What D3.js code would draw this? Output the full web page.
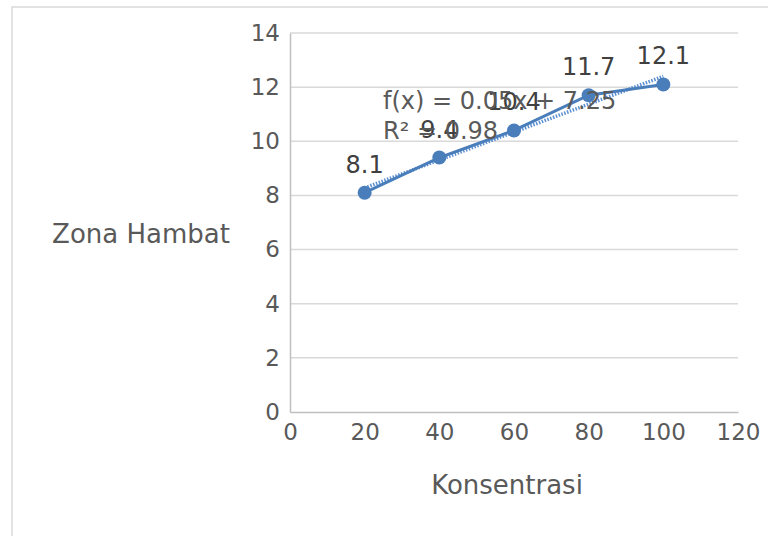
<!DOCTYPE html>
<html><head><meta charset="utf-8">
<script src="https://cdn.jsdelivr.net/npm/d3@7"></script>
<style>body{margin:0;background:#fff;} text{font-family:"DejaVu Sans",sans-serif;}</style>
</head><body><svg id="c" width="768" height="536"></svg>
<script>
const konsentrasi = [20, 40, 60, 80, 100];
const zonaHambat = [8.1, 9.4, 10.4, 11.7, 12.1];
const xTicks = [0, 20, 40, 60, 80, 100, 120];
const yTicks = [0, 2, 4, 6, 8, 10, 12, 14];
const eqLabel = "f(x) = 0.05x + 7.25";
const r2Label = "R² = 0.98";

const svg = d3.select("#c");
svg.append("rect").attr("x",12).attr("y",7).attr("width",800).attr("height",600)
  .attr("fill","#fff").attr("stroke","#d9d9d9").attr("stroke-width",1.5);

const x = d3.scaleLinear().domain([0,120]).range([290,738]);
const y = d3.scaleLinear().domain([0,14]).range([412,33]);

svg.append("g").selectAll("line").data(yTicks.filter(d=>d>0)).join("line")
  .attr("x1",x(0)).attr("x2",x(120)).attr("y1",d=>y(d)).attr("y2",d=>y(d))
  .attr("stroke","#d9d9d9").attr("stroke-width",1.5);

const xAxis = svg.append("g").attr("transform",`translate(0,${y(0)})`)
  .call(d3.axisBottom(x).tickValues(xTicks).tickSize(0).tickPadding(12).tickFormat(d3.format("d")));
const yAxis = svg.append("g").attr("transform",`translate(${x(0)},0)`)
  .call(d3.axisLeft(y).tickValues(yTicks).tickSize(0).tickPadding(10).tickFormat(d3.format("d")));
[xAxis,yAxis].forEach(a=>{
  a.select(".domain").attr("stroke","#bfbfbf").attr("stroke-width",1.5);
  a.selectAll("text").attr("fill","#595959").style("font-size","23px").style("font-family","DejaVu Sans");
});
xAxis.selectAll("text").attr("dy","0.71em");

svg.append("text").attr("x",507).attr("y",494).attr("text-anchor","middle")
  .attr("fill","#595959").style("font-size","26px").text("Konsentrasi");
svg.append("text").attr("x",141).attr("y",243).attr("text-anchor","middle")
  .attr("fill","#595959").style("font-size","26px").text("Zona Hambat");

const pts = konsentrasi.map((k,i)=>({x:k,y:zonaHambat[i]}));

const mx = d3.mean(konsentrasi), my = d3.mean(zonaHambat);
const b = d3.sum(pts,p=>(p.x-mx)*(p.y-my))/d3.sum(pts,p=>(p.x-mx)**2);
const a0 = my - b*mx;
const x0 = d3.min(konsentrasi), x1 = d3.max(konsentrasi);
svg.append("line").attr("x1",x(x0)).attr("y1",y(a0+b*x0)).attr("x2",x(x1)).attr("y2",y(a0+b*x1))
  .attr("stroke","#5b8fd0").attr("stroke-width",3.5).attr("stroke-dasharray","1.5,1.5");

svg.append("path").datum(pts)
  .attr("d",d3.line().x(d=>x(d.x)).y(d=>y(d.y)))
  .attr("fill","none").attr("stroke","#4a7ebb").attr("stroke-width",3);

svg.append("g").selectAll("circle").data(pts).join("circle")
  .attr("cx",d=>x(d.x)).attr("cy",d=>y(d.y)).attr("r",7).attr("fill","#4a7ebb");

svg.append("g").selectAll("text").data(pts).join("text")
  .attr("x",d=>x(d.x)).attr("y",d=>y(d.y)-20).attr("text-anchor","middle")
  .attr("fill","#404040").style("font-size","24px").text(d=>d.y);

svg.append("text").attr("x",383).attr("y",109).attr("fill","#595959").style("font-size","24px").text(eqLabel);
svg.append("text").attr("x",383).attr("y",139).attr("fill","#595959").style("font-size","24px").text(r2Label);
</script></body></html>
